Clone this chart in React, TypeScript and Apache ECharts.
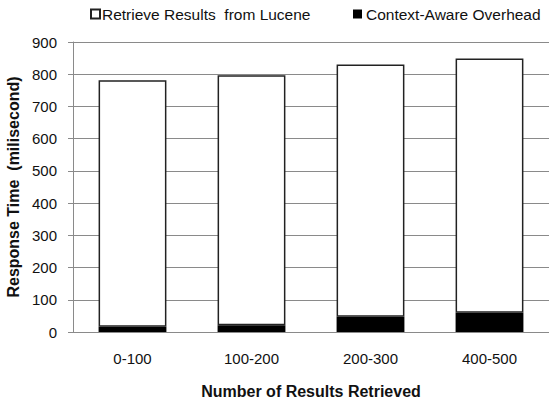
import React, { useEffect, useRef } from "react";
import * as echarts from "echarts";

const categories = ["0-100", "100-200", "200-300", "400-500"];
const overheadMs = [16, 21, 47, 60];
const luceneMs = [765, 776, 783, 789];
const yTicks = [0, 100, 200, 300, 400, 500, 600, 700, 800, 900];

const FONT = "'Liberation Sans', Arial, sans-serif";

export default function App() {
  const ref = useRef<HTMLDivElement>(null);

  useEffect(() => {
    if (!ref.current) return;
    const chart = echarts.init(ref.current, undefined, { renderer: "svg" });
    chart.setOption({
      animation: false,
      backgroundColor: "#ffffff",
      textStyle: { fontFamily: FONT },
      legend: [
        {
          data: ["Retrieve Results  from Lucene"],
          left: 90,
          top: 6,
          padding: 0,
          itemWidth: 9,
          itemHeight: 9,
          icon: "rect",
          textStyle: { fontFamily: FONT, fontSize: 15.5, color: "#111", padding: [0, 0, 0, -3] },
        },
        {
          data: ["Context-Aware Overhead"],
          left: 353,
          top: 6,
          padding: 0,
          itemWidth: 9,
          itemHeight: 9,
          icon: "rect",
          textStyle: { fontFamily: FONT, fontSize: 15.5, color: "#111", padding: [0, 0, 0, -1] },
        },
      ],
      grid: { left: 73, right: 0, top: 42, bottom: 69, outerBoundsMode: "none", containLabel: false },
      xAxis: {
        type: "category",
        data: categories,
        axisLine: { lineStyle: { color: "#8a8a8a", width: 1 } },
        axisTick: { show: false },
        axisLabel: { fontFamily: FONT, fontSize: 15, color: "#111", margin: 19 },
        name: "Number of Results Retrieved",
        nameLocation: "middle",
        nameGap: 51,
        nameTextStyle: { fontFamily: FONT, fontSize: 16, fontWeight: "bold", color: "#111" },
      },
      yAxis: {
        type: "value",
        min: yTicks[0],
        max: yTicks[yTicks.length - 1],
        interval: 100,
        axisLine: { show: true, lineStyle: { color: "#8a8a8a", width: 1 } },
        axisTick: { show: true, length: 5, lineStyle: { color: "#8a8a8a" } },
        splitLine: { show: true, lineStyle: { color: "#8a8a8a", width: 1 } },
        axisLabel: { fontFamily: FONT, fontSize: 15, color: "#111", margin: 16 },
        name: "Response Time  (milisecond)",
        nameLocation: "middle",
        nameGap: 48,
        nameTextStyle: { fontFamily: FONT, fontSize: 16, fontWeight: "bold", color: "#111" },
      },
      series: [
        {
          name: "Context-Aware Overhead",
          type: "bar",
          stack: "total",
          data: overheadMs,
          barWidth: "57%",
          itemStyle: { color: "#000000", borderColor: "#000000", borderWidth: 0 },
        },
        {
          name: "Retrieve Results  from Lucene",
          type: "bar",
          stack: "total",
          data: luceneMs,
          barWidth: "57%",
          itemStyle: { color: "#ffffff", borderColor: "#222222", borderWidth: 1.5 },
        },
      ],
    });
    return () => chart.dispose();
  }, []);

  return (
    <div
      ref={ref}
      style={{ position: "fixed", left: 0, top: 0, width: 549, height: 401 }}
    />
  );
}
